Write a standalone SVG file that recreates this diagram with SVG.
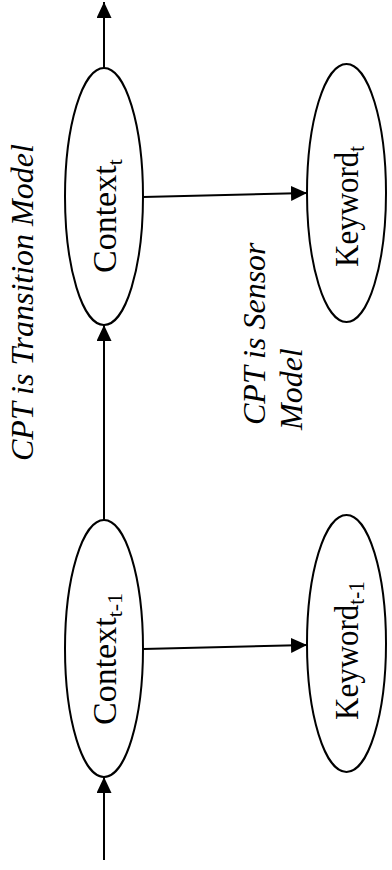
<svg xmlns="http://www.w3.org/2000/svg" width="392" height="870" viewBox="0 0 392 870">
<style>
.node{fill:#fff;stroke:#000;stroke-width:2}
.edge{stroke:#000;stroke-width:2;fill:none}
.lbl{font-family:"Liberation Serif","Times New Roman",serif;font-size:34px;fill:#000}
.kw{font-size:31px}
.note{font-family:"Liberation Serif","Times New Roman",serif;font-size:32px;font-style:italic;fill:#000}
</style>
<defs>
<marker id="arr" markerUnits="userSpaceOnUse" markerWidth="17" markerHeight="16" refX="16" refY="7.5" orient="auto">
<path d="M0,0 L16,7.5 L0,15 z" fill="#000"/>
</marker>
</defs>
<g id="connectors">
<line class="edge" x1="104" y1="860" x2="104" y2="777" marker-end="url(#arr)"/>
<line class="edge" x1="104" y1="520" x2="104" y2="325" marker-end="url(#arr)"/>
<line class="edge" x1="104" y1="68" x2="104" y2="2" marker-end="url(#arr)"/>
<line class="edge" x1="143" y1="649" x2="307" y2="645" marker-end="url(#arr)"/>
<line class="edge" x1="143" y1="197" x2="307" y2="193" marker-end="url(#arr)"/>
</g>
<g id="context_t">
<ellipse class="node" cx="104" cy="196.5" rx="39" ry="128.5"/>
<text class="lbl" transform="translate(116,273) rotate(-90)">Context<tspan font-size="22" dy="6">t</tspan></text>
</g>
<g id="keyword_t">
<ellipse class="node" cx="346.5" cy="193" rx="39.5" ry="129"/>
<text class="lbl kw" transform="translate(358,267) rotate(-90) scale(1,1.1)">Keyword<tspan font-size="21" dy="5">t</tspan></text>
</g>
<g id="context_t1">
<ellipse class="node" cx="104" cy="648.5" rx="39" ry="128.5"/>
<text class="lbl" transform="translate(116,725) rotate(-90)">Context<tspan font-size="22" dy="6">t-1</tspan></text>
</g>
<g id="keyword_t1">
<ellipse class="node" cx="346.5" cy="643.5" rx="39.5" ry="128.5"/>
<text class="lbl kw" transform="translate(358,720) rotate(-90) scale(1,1.1)">Keyword<tspan font-size="21" dy="5">t-1</tspan></text>
</g>
<g id="labels">
<text class="note" transform="translate(33,461) rotate(-90)" font-size="36">CPT is Transition Model</text>
<text class="note" transform="translate(265,425) rotate(-90)">CPT is Sensor</text>
<text class="note" transform="translate(302,430) rotate(-90)">Model</text>
</g>
</svg>
